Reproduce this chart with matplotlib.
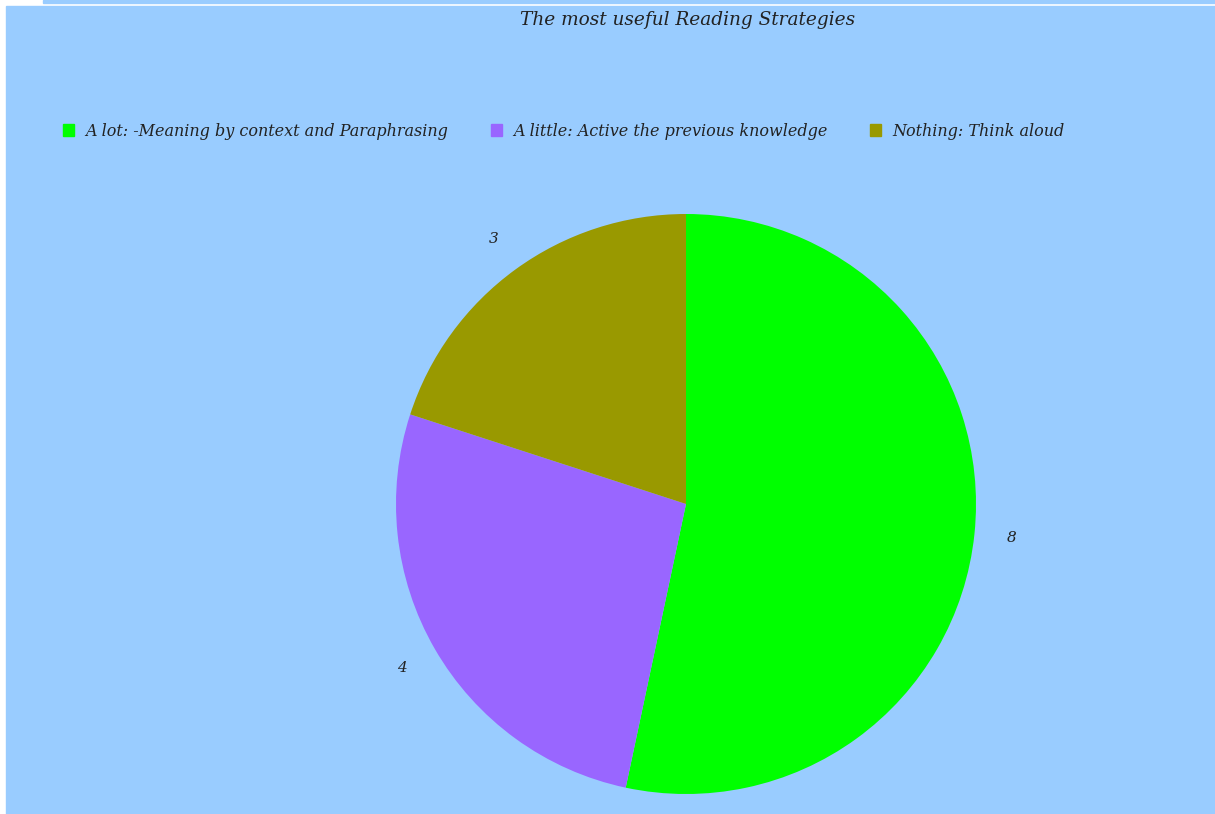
import matplotlib.pyplot as plt
from matplotlib.patches import Rectangle

# datos del gráfico
titulo = 'The most useful Reading Strategies'
categorias = ['A lot: -Meaning by context and Paraphrasing',
              'A little: Active the previous knowledge',
              'Nothing: Think aloud']
valores = [8, 4, 3]
colores = ['#00FF00', '#9966FF', '#999900']

fondo = '#99CCFF'
W, H = 1215, 814

fig = plt.figure(figsize=(W / 100, H / 100), dpi=100)
fig.patch.set_facecolor('white')

# fondo azul (con el borde blanco a la izquierda y arriba)
fig.patches.append(Rectangle((6 / W, 0), 1 - 6 / W, 1 - 6 / H,
                             transform=fig.transFigure, color=fondo, zorder=-5))
fig.patches.append(Rectangle((43 / W, 1 - 3 / H), 1, 3 / H,
                             transform=fig.transFigure, color=fondo, zorder=-5))

fuente = {'family': 'DejaVu Serif', 'style': 'italic'}

# pie: centro (686, 504) px, radio 290 px
cx, cy, r = 686, 504, 290
ax = fig.add_axes([(cx - r) / W, (H - cy - r) / H, 2 * r / W, 2 * r / H])
ax.set_facecolor('none')
wedges, textos = ax.pie(valores, colors=colores, startangle=90, counterclock=False,
                        labels=[str(v) for v in valores], labeldistance=1.13,
                        textprops=dict(fontsize=11, color='#222222', **fuente),
                        wedgeprops=dict(linewidth=0))
for t in textos:
    t.set_ha('center')
    t.set_va('center')
ax.set_xlim(-1, 1)
ax.set_ylim(-1, 1)
ax.set_aspect('equal')
ax.axis('off')

fig.text(688 / W, 1 - 20 / H, titulo, ha='center', va='center',
         fontsize=13.3, color='#222222', **fuente)

handles = [Rectangle((0, 0), 1, 1, color=c) for c in colores]
fig.legend(handles, categorias, loc='center left', ncol=3,
           bbox_to_anchor=(63 / W, 1 - 131 / H), frameon=False,
           handlelength=0.7, handleheight=0.7, handletextpad=0.7,
           columnspacing=2.65, borderaxespad=0, borderpad=0,
           prop=dict(size=11.5, **fuente), labelcolor='#222222')

fig.savefig('out.png', dpi=100, facecolor=fig.get_facecolor())
